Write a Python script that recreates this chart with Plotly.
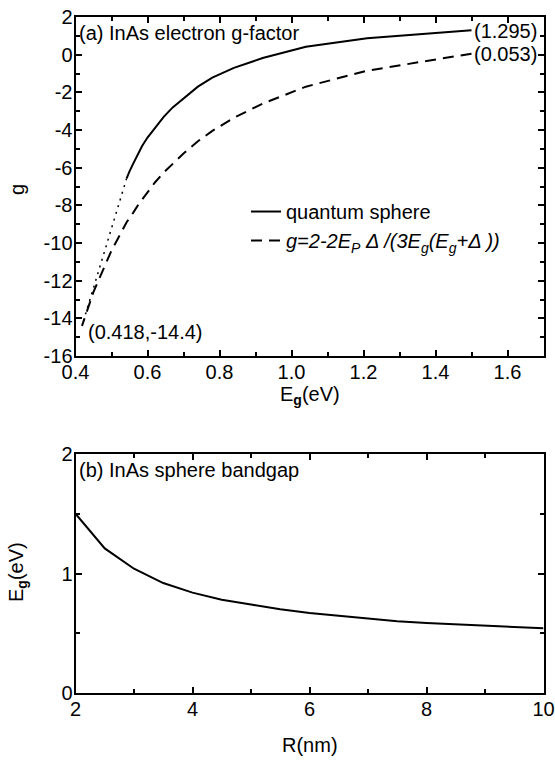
import plotly.graph_objects as go

# ---- data ----
R_nm = [2, 2.5, 3, 3.5, 4, 4.5, 5, 5.5, 6, 6.5, 7, 7.5, 8, 8.5, 9, 9.5, 10]
Eg_sphere = [1.50, 1.21, 1.04, 0.92, 0.84, 0.78, 0.74, 0.70, 0.67, 0.645, 0.62,
             0.60, 0.585, 0.575, 0.56, 0.55, 0.542]
g_sphere = [1.295, 0.87, 0.42, -0.18, -0.70, -1.22, -1.70, -2.30, -2.80, -3.30,
            -3.90, -4.40, -4.85, -5.20, -5.80, -6.20, -6.57]

Eg_formula = [1.50, 1.21, 1.04, 0.92, 0.84, 0.78, 0.74, 0.70, 0.67, 0.645, 0.62,
              0.60, 0.585, 0.575, 0.56, 0.55, 0.542, 0.50, 0.45, 0.418]
g_formula = [0.053, -0.85, -1.70, -2.60, -3.35, -4.05, -4.60, -5.25, -5.80, -6.25,
             -6.80, -7.30, -7.70, -7.95, -8.40, -8.70, -8.90, -10.40, -12.60, -14.4]

Eg_extrap = [0.542, 0.418]
g_extrap = [-6.57, -14.4]

x_ticks_a = [0.4, 0.6, 0.8, 1.0, 1.2, 1.4, 1.6]
x_ticklabels_a = ["0.4", "0.6", "0.8", "1.0", "1.2", "1.4", "1.6"]
y_ticks_a = [2, 0, -2, -4, -6, -8, -10, -12, -14, -16]
y_ticklabels_a = ["2", "0", "-2", "-4", "-6", "-8", "-10", "-12", "-14", "-16"]
x_ticks_b = [2, 4, 6, 8, 10]
y_ticks_b = [0, 1, 2]

FONT = "Liberation Sans, Arial, sans-serif"
FS = 20

fig = go.Figure()

fig.add_trace(go.Scatter(x=Eg_sphere, y=g_sphere, mode="lines",
                         line=dict(color="black", width=2),
                         name="quantum sphere", xaxis="x", yaxis="y"))
fig.add_trace(go.Scatter(x=Eg_formula, y=g_formula, mode="lines",
                         line=dict(color="black", width=2, dash="11px,7px"),
                         name="<i>g=2-2E<sub>P</sub> Δ /(3E<sub>g</sub>(E<sub>g</sub>+Δ ))</i>",
                         xaxis="x", yaxis="y"))
fig.add_trace(go.Scatter(x=Eg_extrap, y=g_extrap, mode="lines",
                         line=dict(color="black", width=1.5, dash="2px,5px"),
                         showlegend=False, xaxis="x", yaxis="y"))
fig.add_trace(go.Scatter(x=R_nm, y=Eg_sphere, mode="lines",
                         line=dict(color="black", width=2),
                         showlegend=False, xaxis="x2", yaxis="y2"))

axis_common = dict(showline=True, linewidth=2, linecolor="black", mirror="allticks",
                   ticks="inside", ticklen=6, tickwidth=1.5, tickcolor="black",
                   showgrid=False, zeroline=False, automargin=False,
                   tickfont=dict(family=FONT, size=FS, color="black"))

xd = [75.5 / 555, 543.5 / 555]
fig.update_layout(
    width=555, height=762,
    margin=dict(l=0, r=0, t=0, b=0, autoexpand=False),
    paper_bgcolor="white", plot_bgcolor="white",
    font=dict(family=FONT, size=FS, color="black"),
    xaxis=dict(domain=xd, range=[0.4, 1.7], tickvals=x_ticks_a, ticktext=x_ticklabels_a,
               ticklabelstandoff=-3,
               minor=dict(dtick=0.1, ticks="inside", ticklen=4, tickcolor="black"),
               anchor="y", **axis_common),
    yaxis=dict(domain=[406 / 762, 745 / 762], range=[-16, 2], tickvals=y_ticks_a,
               ticktext=y_ticklabels_a, ticklabelstandoff=-3,
               minor=dict(dtick=1, ticks="inside", ticklen=4, tickcolor="black"),
               anchor="x", **axis_common),
    xaxis2=dict(domain=xd, range=[2, 10], tickvals=x_ticks_b, ticklabelstandoff=-3,
                minor=dict(dtick=1, ticks="inside", ticklen=4, tickcolor="black"),
                anchor="y2", **axis_common),
    yaxis2=dict(domain=[69 / 762, 308 / 762], range=[0, 2], tickvals=y_ticks_b,
                ticklabelstandoff=-3,
                minor=dict(dtick=0.5, ticks="inside", ticklen=4, tickcolor="black"),
                anchor="x2", **axis_common),
    legend=dict(x=246 / 555, y=0.748, xanchor="left", yanchor="top",
                bgcolor="rgba(0,0,0,0)", font=dict(family=FONT, size=FS),
                tracegroupgap=0, itemwidth=30),
)

ann = [
    dict(text="(a) InAs electron g-factor", xref="x", yref="y", x=0.4, y=1.15,
         xanchor="left", yanchor="middle", xshift=1),
    dict(text="(1.295)", xref="x", yref="y", x=Eg_sphere[0], y=g_sphere[0],
         xanchor="left", yanchor="middle", xshift=0, yshift=-1),
    dict(text="(0.053)", xref="x", yref="y", x=Eg_formula[0], y=g_formula[0],
         xanchor="left", yanchor="middle", xshift=0),
    dict(text="(0.418,-14.4)", xref="x", yref="y", x=Eg_formula[-1], y=g_formula[-1],
         xanchor="left", yanchor="middle", xshift=4, yshift=-6),
    dict(text="g", xref="paper", yref="paper", x=17 / 555, y=1 - 190 / 762,
         xanchor="center", yanchor="middle", textangle=-90),
    dict(text="E<sub><b>g</b></sub>(eV)", xref="paper", yref="paper", x=310 / 555,
         y=1 - 395 / 762, xanchor="center", yanchor="middle"),
    dict(text="(b) InAs sphere bandgap", xref="x2", yref="y2", x=2, y=1.87,
         xanchor="left", yanchor="middle", xshift=1),
    dict(text="E<sub><b>g</b></sub>(eV)", xref="paper", yref="paper", x=17 / 555,
         y=1 - 572 / 762, xanchor="center", yanchor="middle", textangle=-90),
    dict(text="R(nm)", xref="paper", yref="paper", x=310 / 555, y=1 - 745 / 762,
         xanchor="center", yanchor="middle"),
]
for a in ann:
    a["showarrow"] = False
    a["font"] = dict(family=FONT, size=FS, color="black")
fig.update_layout(annotations=ann)

fig.write_html("out.html")
